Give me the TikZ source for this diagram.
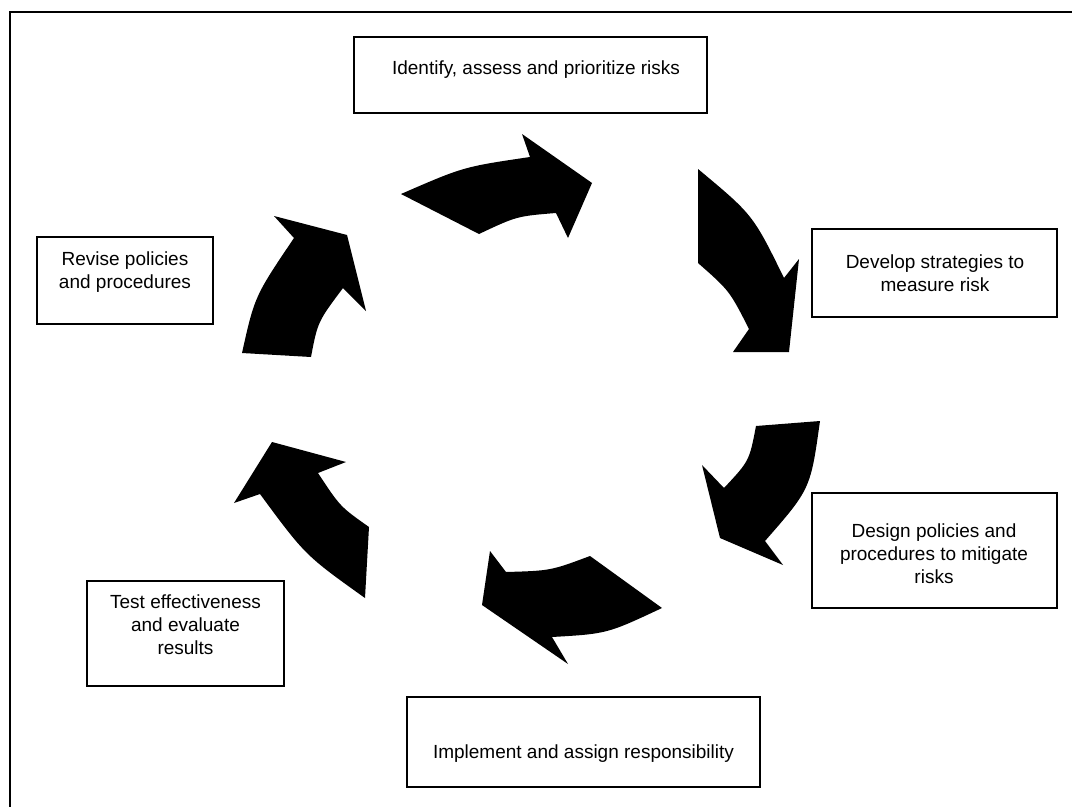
\documentclass[tikz,border=0pt]{standalone}
\usepackage{fontspec}
\setmainfont{Liberation Sans}
\usetikzlibrary{fit}
\newcommand\mlines[1]{\begin{tabular}[t]{@{}c@{}}#1\end{tabular}}
\begin{document}
\begin{tikzpicture}[x=0.75pt,y=-0.75pt,
  boxr/.style={draw=black, line width=0.8pt, inner sep=0pt},
  lbl/.style={inner sep=0pt, anchor=base, font=\fontsize{14.25}{17.25}\selectfont},
  arr/.style={fill=black, draw=none}]
\useasboundingbox (0,0) rectangle (1072,807);
\clip (0,0) rectangle (1072,807);
\draw[line width=1.5pt] (10,12) rectangle (1100,840);

% boxes
\path (354,37) coordinate (b1a) (707,113) coordinate (b1b);
\node[boxr, fit=(b1a)(b1b)] (b1) {};
\path (812,229) coordinate (b2a) (1057,317) coordinate (b2b);
\node[boxr, fit=(b2a)(b2b)] (b2) {};
\path (812,493) coordinate (b3a) (1057,608) coordinate (b3b);
\node[boxr, fit=(b3a)(b3b)] (b3) {};
\path (407,697) coordinate (b4a) (760,787) coordinate (b4b);
\node[boxr, fit=(b4a)(b4b)] (b4) {};
\path (87,581) coordinate (b5a) (284,686) coordinate (b5b);
\node[boxr, fit=(b5a)(b5b)] (b5) {};
\path (37,237) coordinate (b6a) (213,324) coordinate (b6b);
\node[boxr, fit=(b6a)(b6b)] (b6) {};

% texts
\node[lbl] (t1) at (536,74) {Identify, assess and prioritize risks};
\node[lbl] (t2) at (935,268) {\mlines{Develop strategies to\\measure risk}};
\node[lbl] (t3) at (934,537) {\mlines{Design policies and\\procedures to mitigate\\risks}};
\node[lbl] (t4) at (583.5,758) {Implement and assign responsibility};
\node[lbl] (t5) at (185.5,608) {\mlines{Test effectiveness\\and evaluate\\results}};
\node[lbl] (t6) at (125,265) {\mlines{Revise policies\\and procedures}};

% curved arrows
\fill[arr] (401,194) .. controls (463.5,166.8) .. (530,157) -- (522,134) -- (592,183)
  -- (568,238) -- (556,213) .. controls (516.8,216.2) .. (479,234) -- cycle;
\fill[arr] (698,169) .. controls (753,214.8) .. (784,278) -- (799,259) -- (789,352)
  -- (733,352) -- (749,329) .. controls (729.5,290.7) .. (698,263) -- cycle;
\fill[arr] (820,421) .. controls (810.5,489) .. (765,541) -- (783,565) -- (720,538)
  -- (702,465) -- (724,488) .. controls (749.3,461) .. (756,426) -- cycle;
\fill[arr] (590,556) -- (662,608) .. controls (607,633.8) .. (552,637) -- (568,664) -- (482,605)
  -- (490,551) -- (506,572) .. controls (550.7,570.7) .. (590,556) -- cycle;
\fill[arr] (369,527) -- (365,598) .. controls (305.2,555.3) .. (260,494) -- (234,503) -- (272,442)
  -- (346,462) -- (318,473) .. controls (340.2,506.7) .. (369,527) -- cycle;
\fill[arr] (242,353) .. controls (254.7,296.2) .. (294,238) -- (274,216) -- (347,235)
  -- (366,311) -- (343,288) .. controls (317.7,321.8) .. (311,357) -- cycle;
\end{tikzpicture}
\end{document}
